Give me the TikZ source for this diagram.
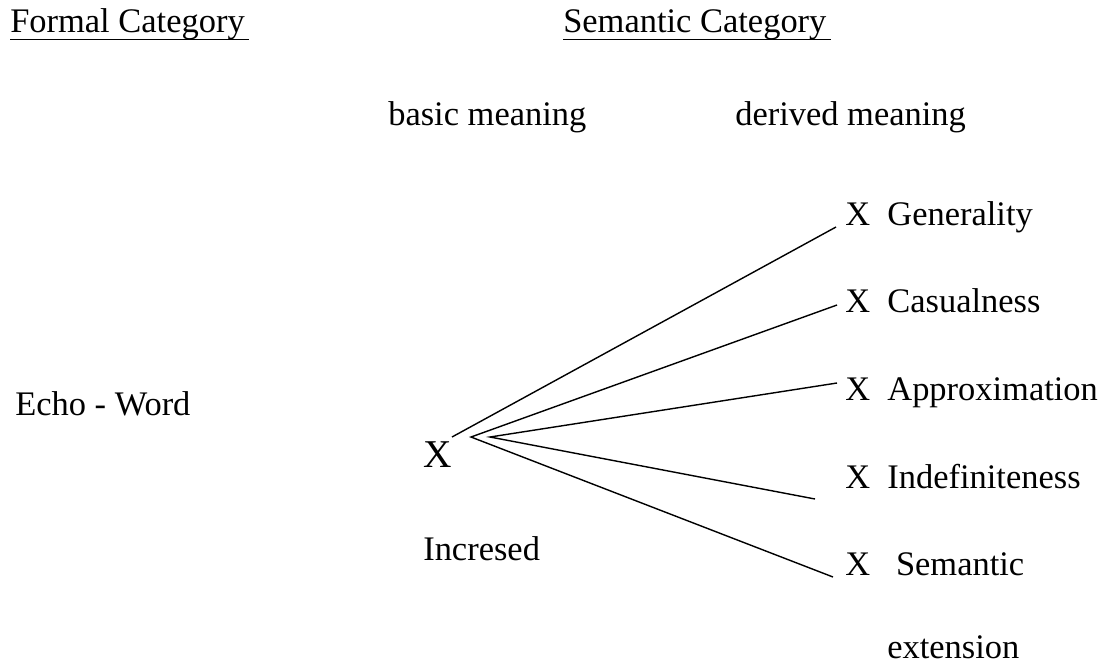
\documentclass[tikz,border=0pt]{standalone}
\usepackage{fontspec}
\setmainfont{Liberation Serif}
\usetikzlibrary{positioning}

\begin{document}
\begin{tikzpicture}[x=0.025cm, y=-0.025cm,
    lbl/.style={anchor=base west, inner sep=0pt, font=\fontsize{24.5}{29}\selectfont},
    bigx/.style={anchor=base west, inner sep=0pt, font=\fontsize{28}{34}\selectfont},
    fan/.style={line width=1pt}
]
\useasboundingbox (0,0) rectangle (1102,666);

% headings
\node[lbl] (formal) at (10,32) {Formal Category};
\node[lbl] (semantic) at (563,32) {Semantic Category};
\draw ([yshift=-5pt]formal.base west) -- ([shift={(4,0)},yshift=-5pt]formal.base east);
\draw ([yshift=-5pt]semantic.base west) -- ([shift={(4,0)},yshift=-5pt]semantic.base east);

\node[lbl] (basic) at (388,125) {basic meaning};
\node[lbl] (derived) at (735,125) {derived meaning};

% left side
\node[lbl] (echo) at (15,415) {Echo - Word};
\node[bigx] (bx) at (423,467) {X};
\node[lbl] (incr) at (423,560) {Incresed};

% derived meanings
\node[lbl] (gen) at (845,225) {X\ \ Generality};
\node[lbl] (cas) at (845,312) {X\ \ Casualness};
\node[lbl] (appr) at (845,400) {X\ \ Approximation};
\node[lbl] (indef) at (845,488) {X\ \ Indefiniteness};
\node[lbl] (sem) at (845,575) {X\ \ \ Semantic};
\node[lbl] (ext) at (887,658) {extension};

% fan
\coordinate (hubA) at (452,437);
\coordinate (hubB) at (471,437);
\coordinate (hubC) at (490,437);
\draw[fan] (hubA) -- ([shift={(-9,2)}]gen.base west);
\draw[fan] ([shift={(-8,-7)}]cas.base west) -- (hubB) -- ([shift={(-12,2)}]sem.base west);
\draw[fan] ([shift={(-8,-17)}]appr.base west) -- (hubC) -- ([shift={(-30,11)}]indef.base west);

\end{tikzpicture}
\end{document}
